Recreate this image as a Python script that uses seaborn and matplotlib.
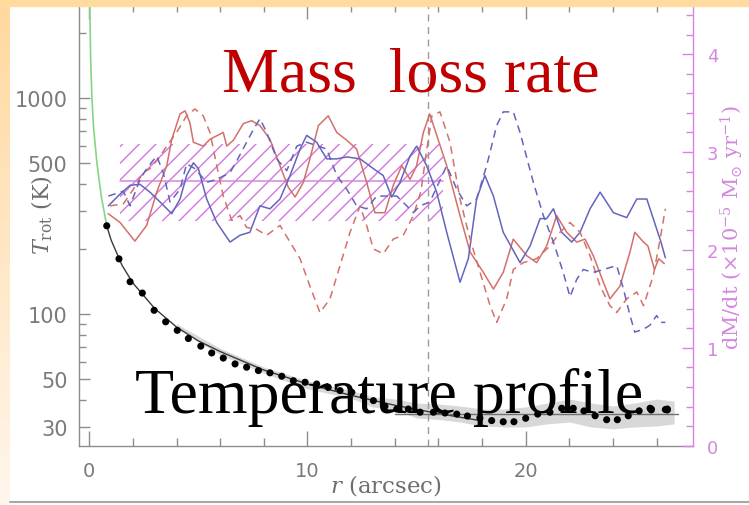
import numpy as np
import matplotlib
matplotlib.use("Agg")
import matplotlib.pyplot as plt
import seaborn as sns
from matplotlib.ticker import FixedLocator, NullFormatter, FixedFormatter
from matplotlib.patches import Rectangle
from matplotlib.lines import Line2D

# ---------------- data ----------------
# temperature profile (left axis, K)
dots_r = [0.80, 1.36, 1.87, 2.43, 2.97, 3.50, 4.03, 4.54, 5.11, 5.61, 6.14, 6.68, 7.21, 7.75,
          8.28, 8.82, 9.35, 9.89, 10.42, 10.95, 11.49, 12.03, 12.56, 13.02, 13.55, 14.09, 14.62,
          15.16, 15.77, 16.30, 16.84, 17.33, 17.90, 18.44, 18.97, 19.46, 20.00, 20.55, 21.11,
          21.65, 22.18, 22.67, 23.18, 23.71, 24.20, 24.70, 25.20, 25.70, 26.40]
dots_T = [256, 180, 141, 125, 104, 92, 84, 77, 71, 66, 62.5, 58.7, 56.7, 54.7,
          53.4, 51.5, 49.1, 48.3, 47.4, 45.8, 44.2, 43.4, 41.7, 39.7, 37.4, 36.3, 36.3,
          35.1, 35.1, 34.8, 34.4, 33.7, 33.0, 32.1, 31.7, 31.7, 32.9, 34.4, 35.1,
          36.6, 36.6, 35.6, 33.8, 32.4, 32.4, 33.8, 35.6, 36.6, 36.1]

band_r = [4, 6, 8, 10, 12, 13, 14, 15, 16, 17, 18, 19, 20, 21, 22, 23, 24, 25, 26, 26.8]
band_lo = [86, 64.7, 53.2, 45.0, 40.7, 37.1, 36.0, 33.0, 32.5, 31.6, 30.3, 30.0, 30.0, 31.0,
           31.6, 30.0, 29.4, 30.0, 30.3, 31.0]
band_hi = [90, 69.3, 56.8, 49.1, 44.3, 41.3, 40.4, 38.7, 38.3, 37.5, 36.3, 36.3, 37.1, 38.7,
           40.4, 38.7, 37.5, 38.7, 40.4, 39.5]

model_r = [0.8, 1.0, 1.5, 2, 3, 4, 5, 6, 8, 10, 12, 14, 16, 18]
model_T = [256, 220, 168, 139, 106, 87, 75, 67, 55, 47.4, 42, 37.8, 34.6, 32]

green_r = [0.02, 0.06, 0.12, 0.2, 0.35, 0.55, 0.8]
green_T = [2900, 1560, 1000, 720, 500, 350, 256]

flat_r = [14.0, 27.0]
flat_T = [34.5, 34.5]

# mass-loss rate (right axis, 1e-5 Msun/yr)
red_solid_r = [0.87, 1.41, 2.09, 2.63, 3.09, 3.55, 3.78, 4.16, 4.39, 4.61, 4.77, 5.22, 5.53, 6.14,
               6.30, 6.60, 7.06, 7.44, 7.82, 8.28, 8.74, 9.12, 9.43, 9.81, 10.11, 10.50, 10.95,
               11.34, 11.8, 12.25, 12.71, 13.09, 13.55, 13.93, 14.32, 14.7, 15.0, 15.31, 15.6,
               16.38, 16.99, 17.45, 18.06, 18.52, 18.97, 19.43, 20.05, 20.5, 20.96, 21.42, 21.88,
               22.34, 22.72, 23.1, 23.56, 23.86, 24.32, 24.78, 25.0, 25.4, 25.6, 25.9, 26.1, 26.35]
red_solid_m = [2.37, 2.28, 2.09, 2.25, 2.59, 2.86, 3.13, 3.39, 3.42, 3.30, 3.10, 3.06, 3.13, 3.20,
               3.06, 3.12, 3.29, 3.32, 3.27, 3.13, 2.86, 2.64, 2.54, 2.69, 2.93, 3.27, 3.37,
               3.20, 3.12, 3.03, 2.69, 2.38, 2.38, 2.66, 2.86, 2.72, 2.86, 3.20, 3.39,
               2.86, 2.35, 1.98, 1.77, 1.60, 1.77, 2.11, 1.94, 1.87, 2.04, 2.35, 2.18,
               2.08, 2.11, 1.94, 1.67, 1.50, 1.63, 1.98, 2.18, 2.08, 2.04, 1.80, 1.91, 1.86]

blue_solid_r = [0.87, 1.41, 1.87, 2.32, 2.78, 3.24, 3.78, 4.16, 4.46, 4.77, 5.0, 5.38, 5.84, 6.45,
                6.91, 7.36, 7.82, 8.28, 8.74, 9.2, 9.66, 9.96, 10.42, 10.88, 11.34, 11.8, 12.41,
                13.02, 13.47, 13.86, 14.24, 14.7, 15.0, 15.46, 15.92, 16.38, 16.99, 17.37, 17.75,
                18.13, 18.52, 18.97, 19.74, 20.2, 20.66, 20.96, 21.27, 21.65, 22.11, 22.49, 22.95,
                23.41, 24.02, 24.63, 25.09, 25.55, 26.2, 26.4]
blue_solid_m = [2.45, 2.57, 2.66, 2.67, 2.59, 2.49, 2.37, 2.52, 2.76, 2.89, 2.83, 2.52, 2.28, 2.08,
                2.15, 2.18, 2.45, 2.42, 2.52, 2.76, 3.03, 3.17, 3.10, 2.93, 2.93, 2.95, 2.93,
                2.83, 2.76, 2.54, 2.69, 2.96, 3.06, 2.86, 2.59, 2.18, 1.67, 1.91, 2.52,
                2.76, 2.55, 2.18, 1.87, 2.04, 2.32, 2.32, 2.42, 2.18, 2.08, 2.18, 2.42,
                2.59, 2.38, 2.33, 2.52, 2.52, 2.08, 1.92]

red_dash_r = [0.95, 1.56, 2.02, 2.47, 2.78, 3.16, 3.55, 4.0, 4.46, 4.84, 5.22, 5.53, 5.84, 6.14,
              6.53, 6.91, 7.21, 7.67, 8.13, 8.74, 9.2, 9.66, 10.11, 10.57, 11.03, 11.49, 11.95,
              12.41, 12.71, 13.02, 13.47, 13.93, 14.39, 14.85, 15.2, 15.45, 15.7, 16.07, 16.53,
              16.99, 17.45, 17.91, 18.37, 18.67, 19.13, 19.43, 19.89, 20.5, 21.11, 21.57, 22.03,
              22.49, 22.95, 23.41, 23.86, 24.17, 24.63, 25.09, 25.4, 25.85, 26.16, 26.4]
red_dash_m = [2.45, 2.47, 2.62, 2.79, 2.83, 2.93, 3.06, 3.20, 3.37, 3.44, 3.37, 3.20, 2.86, 2.55,
              2.30, 2.35, 2.23, 2.21, 2.15, 2.25, 2.08, 1.91, 1.63, 1.36, 1.50, 1.84, 2.18,
              2.45, 2.25, 2.01, 1.96, 2.11, 2.15, 2.35, 2.60, 3.00, 3.37, 3.41, 3.10,
              2.52, 2.11, 1.77, 1.43, 1.26, 1.50, 1.80, 1.87, 1.91, 2.04, 2.18, 2.28,
              2.18, 1.94, 1.63, 1.43, 1.36, 1.50, 1.57, 1.43, 1.74, 2.11, 2.42]

blue_dash_r = [0.87, 1.56, 1.87, 2.32, 2.63, 3.09, 3.39, 3.7, 4.16, 4.46, 4.84, 5.38, 5.84, 6.45,
               6.76, 7.21, 7.52, 7.82, 8.13, 8.59, 9.05, 9.51, 9.96, 10.5, 10.88, 11.34, 11.8,
               12.25, 12.71, 13.17, 13.63, 14.09, 14.55, 14.85, 15.16, 15.61, 16.38, 16.84, 17.3,
               17.75, 18.21, 18.67, 18.97, 19.43, 19.74, 20.35, 20.81, 21.27, 21.72, 22.03, 22.34,
               22.64, 23.1, 23.56, 24.17, 24.48, 24.78, 25.0, 25.4, 25.69, 26.0, 26.2, 26.4]
blue_dash_m = [2.55, 2.60, 2.45, 2.72, 2.83, 2.96, 2.79, 2.49, 2.62, 2.88, 2.83, 2.69, 2.72, 2.79,
               2.91, 3.10, 3.23, 3.34, 3.20, 2.93, 2.81, 3.06, 3.10, 3.06, 3.03, 2.76, 2.62,
               2.45, 2.42, 2.55, 2.55, 2.55, 2.45, 2.38, 2.45, 2.49, 2.86, 2.62, 2.45,
               2.52, 2.86, 3.27, 3.41, 3.41, 3.20, 2.69, 2.35, 2.08, 1.77, 1.52, 1.70,
               1.80, 1.77, 1.80, 1.84, 1.60, 1.33, 1.16, 1.19, 1.23, 1.33, 1.26, 1.26]

# mean mass-loss rate and its range (hatched box)
box_r = [1.41, 16.2]
box_mean = 2.70
box_lo = 2.30
box_hi = 3.08
r_break = 15.5

x_major = [0, 10, 20]
x_minor = [2, 4, 6, 8, 12, 14, 16, 18, 22, 24, 26]
t_major = [30, 50, 100, 500, 1000]
t_minor = [40, 60, 70, 80, 90, 200, 300, 400, 600, 700, 800, 900, 2000]
m_major = [0, 1, 2, 3, 4]
m_minor = [0.2, 0.4, 0.6, 0.8, 1.2, 1.4, 1.6, 1.8, 2.2, 2.4, 2.6, 2.8, 3.2, 3.4, 3.6, 3.8, 4.2, 4.4]

# ---------------- style ----------------
sns.set_theme(style="ticks")
plt.rcParams['font.family'] = ['DejaVu Sans']
plt.rcParams['mathtext.fontset'] = 'dejavuserif'
plt.rcParams['hatch.linewidth'] = 1.0

W, H = 749, 506
GRAY = '#8c8c8c'
TXT = '#7a7a7a'
MAG = '#d587e0'
HATCH = '#d277df'
RED = '#d4706a'
BLUE = '#6464bf'

fig = plt.figure(figsize=(W / 100, H / 100), dpi=100)
fig.patch.set_facecolor('white')

ax = fig.add_axes([79.3 / W, (H - 446.7) / H, (693 - 79.3) / W, (446.7 - 5) / H])
ax.set_facecolor('white')
ax.set_yscale('log')
ax.set_xlim(-0.458, 27.667)
ax.set_ylim(24.56, 2723)

ax2 = ax.twinx()
ax2.set_ylim(0, 4.512)
ax2.patch.set_visible(False)

# temperature panel
ax.fill_between(band_r, band_lo, band_hi, color='#d8d8d8', lw=0, zorder=1)
ax.axvline(r_break, color='#9a9a9a', lw=1.0, ls=(0, (5, 4)), zorder=1.5)
sns.lineplot(x=green_r, y=green_T, ax=ax, color='#86d486', lw=1.2, estimator=None, zorder=2)
sns.lineplot(x=model_r, y=model_T, ax=ax, color='#3a3a3a', lw=1.0, estimator=None, zorder=2)
sns.lineplot(x=flat_r, y=flat_T, ax=ax, color='#707070', lw=1.0, estimator=None, zorder=2)
sns.scatterplot(x=dots_r, y=dots_T, ax=ax, color='black', s=26, edgecolor='none', zorder=3)

# mass-loss panel
ax2.fill_between(box_r, [box_lo, box_lo], [box_hi, box_hi], facecolor='none',
                 edgecolor=HATCH, hatch='//', lw=0, zorder=1)
sns.lineplot(x=box_r, y=[box_mean, box_mean], ax=ax2, color=MAG, lw=1.1, estimator=None, zorder=2)
sns.lineplot(x=red_solid_r, y=red_solid_m, ax=ax2, color=RED, lw=1.1, estimator=None, zorder=3)
sns.lineplot(x=blue_solid_r, y=blue_solid_m, ax=ax2, color=BLUE, lw=1.1, estimator=None, zorder=3)
sns.lineplot(x=red_dash_r, y=red_dash_m, ax=ax2, color=RED, lw=1.1, estimator=None, zorder=3,
             linestyle=(0, (5, 3.5)))
sns.lineplot(x=blue_dash_r, y=blue_dash_m, ax=ax2, color=BLUE, lw=1.1, estimator=None, zorder=3,
             linestyle=(0, (5, 3.5)))

# ---------------- axes cosmetics ----------------
for s in ['left', 'bottom', 'top']:
    ax.spines[s].set_color(GRAY)
    ax.spines[s].set_linewidth(1.0)
    ax2.spines[s].set_visible(False)
ax.spines['right'].set_visible(False)
ax2.spines['right'].set_color(MAG)
ax2.spines['right'].set_linewidth(1.0)

ax.xaxis.set_major_locator(FixedLocator(x_major))
ax.xaxis.set_minor_locator(FixedLocator(x_minor))
ax.xaxis.set_major_formatter(FixedFormatter([str(v) for v in x_major]))
ax.xaxis.set_minor_formatter(NullFormatter())
ax.yaxis.set_major_locator(FixedLocator(t_major))
ax.yaxis.set_minor_locator(FixedLocator(t_minor))
ax.yaxis.set_major_formatter(FixedFormatter([str(v) for v in t_major]))
ax.yaxis.set_minor_formatter(NullFormatter())
ax2.yaxis.set_major_locator(FixedLocator(m_major))
ax2.yaxis.set_minor_locator(FixedLocator(m_minor))
ax2.yaxis.set_major_formatter(FixedFormatter([str(v) for v in m_major]))
ax2.yaxis.set_minor_formatter(NullFormatter())

ax.tick_params(axis='x', which='both', direction='in', top=True, bottom=True, color=GRAY,
               width=1.0, labelcolor=TXT, labelsize=14, pad=11)
ax.tick_params(axis='x', which='major', length=11)
ax.tick_params(axis='x', which='minor', length=6)
ax.tick_params(axis='y', which='both', direction='in', left=True, right=False, color=GRAY,
               width=1.0, labelcolor=TXT, labelsize=15, pad=8.5)
ax.tick_params(axis='y', which='major', length=8)
ax.tick_params(axis='y', which='minor', length=5)
ax2.tick_params(axis='y', which='both', direction='in', left=False, right=True, color=MAG,
                width=1.0, labelcolor=MAG, labelsize=13, pad=10)
ax2.tick_params(axis='y', which='major', length=8)
ax2.tick_params(axis='y', which='minor', length=5)

ax.set_xlabel(r"$r$ (arcsec)", family='DejaVu Serif', fontsize=16.5, color='#6e6e6e')
ax.xaxis.set_label_coords((386 - 79.3) / 613.7, (446.7 - 486) / 441.7)
ax.xaxis.label.set_va('center')
ax.set_ylabel(r"$T_{\rm rot}$ (K)", family='DejaVu Serif', fontsize=16, color='#6e6e6e')
ax.yaxis.set_label_coords((42 - 79.3) / 613.7, (446.7 - 215) / 441.7)
ax.yaxis.label.set_va('center')
ax2.set_ylabel(r"dM/dt ($\times$10$^{-5}$ M$_{\odot}$ yr$^{-1}$)", family='DejaVu Serif',
               fontsize=15, color=MAG, rotation=90)
ax2.yaxis.set_label_coords((732 - 79.3) / 613.7, (446.7 - 228) / 441.7)
ax2.yaxis.label.set_va('center')

# ---------------- overlay slide text ----------------
fig.text(222 / W, 1 - 92 / H, "Mass  loss rate", family='Liberation Serif', fontsize=46,
         color='#c00000', ha='left', va='baseline', zorder=20)
fig.text(135 / W, 1 - 413 / H, "Temperature profile..", family='Liberation Serif', fontsize=46,
         color='black', ha='left', va='baseline', zorder=20)

# ---------------- slide frame ----------------
grad = np.linspace(0, 1, 256).reshape(-1, 1)
top_c = np.array([255, 216, 158]) / 255
bot_c = np.array([255, 246, 236]) / 255
img = top_c[None, None, :] * (1 - grad[:, :, None]) + bot_c[None, None, :] * grad[:, :, None]
gax = fig.add_axes([0, 0, 10 / W, 1], zorder=30)
gax.imshow(img, aspect='auto', extent=[0, 1, 0, 1])
gax.set_axis_off()
fig.patches.append(Rectangle((0, 1 - 7 / H), 1, 7 / H, transform=fig.transFigure,
                             color='#ffdba0', zorder=40))
fig.lines.append(Line2D([10 / W, 1], [1 - 503 / H, 1 - 503 / H], transform=fig.transFigure,
                        color='#a8a8a8', lw=1.5, zorder=40))

fig.savefig('out.png', dpi=100, facecolor='white')
